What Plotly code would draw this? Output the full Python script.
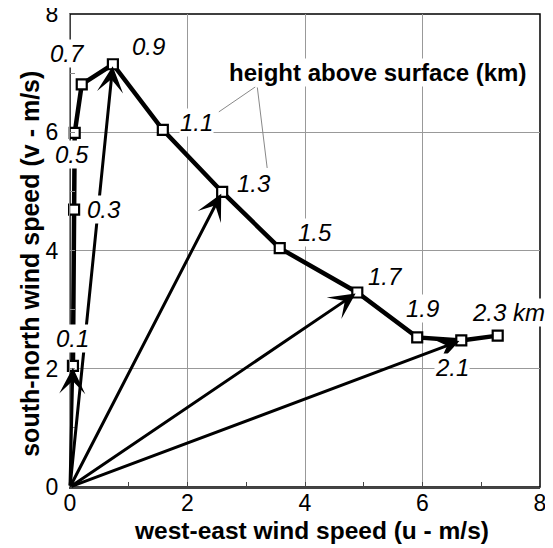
import plotly.graph_objects as go

# ---- data ----
heights = [0.1, 0.3, 0.5, 0.7, 0.9, 1.1, 1.3, 1.5, 1.7, 1.9, 2.1, 2.3]
u_wind = [0.05, 0.07, 0.08, 0.20, 0.73, 1.58, 2.59, 3.57, 4.89, 5.91, 6.66, 7.28]
v_wind = [2.05, 4.69, 5.99, 6.81, 7.15, 6.04, 4.99, 4.04, 3.29, 2.53, 2.48, 2.56]
arrow_heights = [0.1, 0.9, 1.3, 1.7, 2.1]
x_ticks = [0, 2, 4, 6, 8]
y_ticks = [0, 2, 4, 6, 8]

# label offsets in pixels (text placement relative to each point)
label_shift = {
    0.1: (0, 27), 0.3: (30, 0), 0.5: (-3, -22), 0.7: (-14, 31),
    0.9: (36, 18), 1.1: (34, 7), 1.3: (32, 8), 1.5: (35, 16),
    1.7: (28, 16), 1.9: (5, 29), 2.1: (-9, -27), 2.3: (11, 23),
}

FONT = "Liberation Sans, Arial, sans-serif"

fig = go.Figure()
fig.add_trace(go.Scatter(
    x=u_wind, y=v_wind, mode="lines+markers",
    line=dict(color="black", width=4.5),
    marker=dict(symbol="square", size=10, color="white",
                line=dict(color="black", width=2.2)),
    cliponaxis=False, showlegend=False, hoverinfo="skip",
))

annotations = []
# arrows from origin
for h in arrow_heights:
    i = heights.index(h)
    annotations.append(dict(
        x=u_wind[i], y=v_wind[i], ax=0, ay=0, xref="x", yref="y",
        axref="x", ayref="y", text="", showarrow=True,
        arrowhead=3, arrowsize=1.45, arrowwidth=3, arrowcolor="black",
        standoff=2,
    ))

# leader lines from callout to labels 1.1 and 1.3
i11 = heights.index(1.1)
i13 = heights.index(1.3)
annotations.append(dict(x=u_wind[i11], y=v_wind[i11], xref="x", yref="y",
                        xshift=56, yshift=18, ax=38, ay=-26, text="",
                        showarrow=True, arrowhead=0, arrowwidth=1,
                        arrowcolor="#888"))
annotations.append(dict(x=u_wind[i13], y=v_wind[i13], xref="x", yref="y",
                        xshift=45, yshift=24, ax=-10, ay=-82, text="",
                        showarrow=True, arrowhead=0, arrowwidth=1,
                        arrowcolor="#888"))

# height labels
for h, u, v in zip(heights, u_wind, v_wind):
    txt = f"{h:.1f}" + (" km" if h == heights[-1] else "")
    dx, dy = label_shift[h]
    annotations.append(dict(
        x=u, y=v, xref="x", yref="y", text=f"<i>{txt}</i>", showarrow=False,
        xshift=dx, yshift=dy, bgcolor="white", borderpad=0,
        xanchor="center", yanchor="middle",
        font=dict(family=FONT, size=24, color="black"),
    ))

# callout
annotations.append(dict(
    x=0.655, y=0.877, xref="paper", yref="paper",
    xanchor="center", yanchor="middle",
    text="<b>height above surface (km)</b>", showarrow=False,
    bgcolor="white", borderpad=0,
    font=dict(family=FONT, size=24, color="black"),
))

# axis titles
annotations.append(dict(
    x=0.513, y=-0.093, xref="paper", yref="paper", showarrow=False,
    xanchor="center", yanchor="middle",
    text="<b>west-east wind speed (u - m/s)</b>",
    font=dict(family=FONT, size=24.5, color="black"),
))
annotations.append(dict(
    x=-0.085, y=0.472, xref="paper", yref="paper", showarrow=False,
    xanchor="center", yanchor="middle",
    textangle=-90, text="<b>south-north wind speed (v - m/s)</b>",
    font=dict(family=FONT, size=25, color="black"),
))

fig.update_layout(
    width=545, height=540,
    margin=dict(l=62, r=13, t=6, b=61),
    paper_bgcolor="white", plot_bgcolor="white",
    font=dict(family=FONT, size=24, color="black"),
    annotations=annotations,
    shapes=[dict(type="rect", xref="paper", yref="paper", x0=0, y0=0,
                 x1=1, y1=1, line=dict(color="black", width=1.5),
                 layer="below")],
    xaxis=dict(
        range=[0, 8], tickvals=x_ticks, showgrid=True, gridcolor="#999",
        gridwidth=1, zeroline=False, showline=True, linecolor="#444",
        linewidth=2, ticks="inside", ticklen=5, tickcolor="#444",
        minor=dict(dtick=1, ticks="inside", ticklen=5, tickcolor="#444",
                   showgrid=False),
        tickfont=dict(size=23), automargin=False, ticklabelstandoff=-6,
        ticklabeloverflow="allow",
    ),
    yaxis=dict(
        range=[0, 8], tickvals=y_ticks, showgrid=True, gridcolor="#999",
        gridwidth=1, zeroline=False, showline=True, linecolor="#888",
        linewidth=1, ticks="inside", ticklen=5, tickcolor="#888",
        minor=dict(dtick=1, ticks="inside", ticklen=5, tickcolor="#888",
                   showgrid=False),
        tickfont=dict(size=23), automargin=False, ticklabelstandoff=6,
        ticklabeloverflow="allow",
    ),
)

fig.write_html("out.html")
